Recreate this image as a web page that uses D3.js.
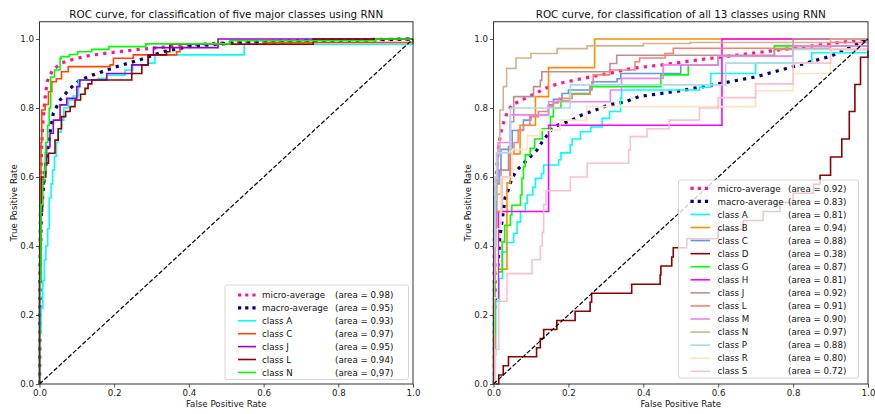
<!DOCTYPE html>
<html>
<head>
<meta charset="utf-8">
<script src="https://cdn.jsdelivr.net/npm/d3@7"></script>
<style>
  body { margin: 0; background: #fff; }
  svg { display: block; font-family: "DejaVu Sans", sans-serif; }
</style>
</head>
<body>
<svg id="chart" width="875" height="414"></svg>
<script>
// ---------- tick labels ----------
const xTicks = [0.0, 0.2, 0.4, 0.6, 0.8, 1.0];
const yTicks = [0.0, 0.2, 0.4, 0.6, 0.8, 1.0];

// ---------- panel 1: five major classes ----------
const fiveTitle = "ROC curve, for classification of five major classes using RNN";
const fiveNames = ["micro-average", "macro-average", "class A", "class C", "class J", "class L", "class N"];
const fiveAreas = ["0.98", "0.95", "0.93", "0.97", "0.95", "0.94", "0,97"];
const fiveColors = ["deeppink", "navy", "aqua", "orangered", "darkviolet", "darkred", "lime"];

const fiveMicro = [[0,0],[0.001,0.45],[0.004,0.62],[0.007,0.72],[0.010,0.77],[0.014,0.82],[0.018,0.855],[0.022,0.88],[0.035,0.91],[0.058,0.93],[0.089,0.941],[0.133,0.952],[0.187,0.96],[0.25,0.968],[0.376,0.981],[0.51,0.99],[0.75,0.997],[1,1]];
const fiveMacro = [[0,0],[0.001,0.3],[0.005,0.5],[0.013,0.60],[0.02,0.66],[0.027,0.72],[0.037,0.785],[0.055,0.823],[0.082,0.857],[0.108,0.881],[0.153,0.9],[0.207,0.92],[0.269,0.94],[0.331,0.963],[0.4,0.978],[0.51,0.988],[0.8,0.995],[1,1]];
const fiveA = [[0,0],[0,0.15],[0.004,0.22],[0.009,0.30],[0.013,0.36],[0.017,0.40],[0.022,0.45],[0.026,0.54],[0.031,0.58],[0.035,0.62],[0.040,0.66],[0.045,0.70],[0.049,0.73],[0.058,0.765],[0.065,0.80],[0.077,0.823],[0.09,0.835],[0.104,0.881],[0.157,0.886],[0.18,0.895],[0.229,0.91],[0.25,0.925],[0.291,0.93],[0.309,0.954],[0.548,0.985],[1,1]];
const fiveC = [[0,0],[0,0.45],[0.002,0.6],[0.004,0.7],[0.006,0.794],[0.015,0.81],[0.024,0.847],[0.033,0.876],[0.045,0.885],[0.059,0.905],[0.077,0.92],[0.189,0.925],[0.198,0.944],[0.251,0.954],[0.367,0.963],[0.376,0.985],[0.6,0.99],[1,1]];
const fiveJ = [[0,0],[0,0.35],[0.004,0.5],[0.008,0.58],[0.013,0.6],[0.017,0.64],[0.019,0.688],[0.028,0.727],[0.037,0.765],[0.055,0.809],[0.073,0.828],[0.1,0.862],[0.108,0.881],[0.18,0.90],[0.247,0.925],[0.291,0.954],[0.305,0.975],[0.478,1],[1,1]];
const fiveL = [[0,0],[0,0.3],[0.003,0.5],[0.006,0.6],[0.015,0.64],[0.024,0.669],[0.0415,0.707],[0.05,0.74],[0.059,0.775],[0.07,0.79],[0.082,0.804],[0.095,0.823],[0.11,0.84],[0.122,0.857],[0.13,0.87],[0.14,0.881],[0.247,0.90],[0.274,0.925],[0.291,0.954],[0.34,0.963],[0.349,0.985],[0.733,1],[1,1]];
const fiveN = [[0,0],[0,0.25],[0.0013,0.30],[0.004,0.52],[0.0086,0.59],[0.013,0.62],[0.0155,0.67],[0.017,0.70],[0.022,0.75],[0.026,0.80],[0.03,0.89],[0.04,0.91],[0.055,0.944],[0.058,0.949],[0.08,0.955],[0.102,0.963],[0.14,0.97],[0.186,0.978],[0.285,0.986],[0.51,0.995],[0.9,1],[1,1]];

// ---------- panel 2: all 13 classes ----------
const allTitle = "ROC curve, for classification of all 13 classes using RNN";
const allNames = ["micro-average", "macro-average", "class A", "class B", "class C", "class D", "class G", "class H", "class J", "class L", "class M", "class N", "class P", "class R", "class S"];
const allAreas = ["0.92", "0.83", "0.81", "0.94", "0.88", "0.38", "0.87", "0.81", "0.92", "0.91", "0.90", "0.97", "0.88", "0.80", "0.72"];
const allColors = ["deeppink", "navy", "aqua", "darkorange", "cornflowerblue", "darkred", "lime", "magenta", "rosybrown", "salmon", "violet", "tan", "lightblue", "bisque", "pink"];

const allMicro = [[0,0],[0.001,0.4],[0.005,0.55],[0.01,0.65],[0.015,0.7],[0.023,0.746],[0.036,0.785],[0.049,0.809],[0.085,0.828],[0.112,0.842],[0.138,0.857],[0.174,0.871],[0.218,0.881],[0.263,0.891],[0.308,0.9],[0.37,0.915],[0.45,0.925],[0.55,0.94],[0.7,0.96],[0.85,0.98],[1,1]];
const allMacro = [[0,0],[0.002,0.2],[0.008,0.3],[0.013,0.36],[0.017,0.427],[0.025,0.49],[0.031,0.54],[0.041,0.567],[0.049,0.596],[0.063,0.62],[0.081,0.64],[0.116,0.678],[0.13,0.702],[0.161,0.746],[0.21,0.765],[0.236,0.78],[0.272,0.794],[0.308,0.809],[0.352,0.818],[0.388,0.833],[0.5,0.85],[0.6,0.87],[0.7,0.89],[0.8,0.92],[0.9,0.95],[1,1]];
const allA = [[0,0],[0.003,0.084],[0.006,0.24],[0.015,0.306],[0.024,0.383],[0.035,0.41],[0.054,0.437],[0.063,0.47],[0.072,0.5],[0.085,0.524],[0.09,0.548],[0.105,0.57],[0.112,0.596],[0.128,0.61],[0.134,0.635],[0.174,0.65],[0.18,0.67],[0.205,0.693],[0.21,0.71],[0.232,0.731],[0.26,0.745],[0.29,0.77],[0.31,0.79],[0.339,0.828],[0.342,0.852],[0.55,0.86],[0.58,0.9],[0.7,0.93],[0.85,0.96],[1,1]];
const allB = [[0,0],[0,0.083],[0.004,0.25],[0.012,0.333],[0.036,0.583],[0.045,0.667],[0.071,0.75],[0.112,0.833],[0.147,0.917],[0.27,1],[1,1]];
const allC = [[0,0],[0,0.3],[0.004,0.5],[0.008,0.58],[0.015,0.62],[0.02,0.68],[0.05,0.735],[0.08,0.765],[0.1,0.78],[0.147,0.809],[0.16,0.825],[0.183,0.842],[0.2,0.852],[0.263,0.876],[0.33,0.885],[0.34,0.9],[0.5,0.925],[0.6,0.95],[0.8,0.98],[1,1]];
const allD = [[0,0],[0.014,0.026],[0.026,0.053],[0.04,0.079],[0.115,0.105],[0.125,0.132],[0.134,0.158],[0.169,0.184],[0.218,0.211],[0.258,0.237],[0.262,0.263],[0.369,0.289],[0.445,0.316],[0.447,0.342],[0.476,0.368],[0.48,0.395],[0.516,0.421],[0.60,0.447],[0.667,0.474],[0.72,0.5],[0.765,0.526],[0.80,0.553],[0.854,0.579],[0.872,0.605],[0.9,0.658],[0.93,0.71],[0.95,0.79],[0.965,0.868],[0.98,0.947],[1,1]];
const allG = [[0,0],[0,0.15],[0.004,0.325],[0.023,0.412],[0.03,0.46],[0.045,0.49],[0.049,0.518],[0.072,0.548],[0.076,0.596],[0.08,0.63],[0.085,0.664],[0.098,0.683],[0.11,0.71],[0.13,0.74],[0.152,0.775],[0.16,0.8],[0.18,0.82],[0.205,0.842],[0.258,0.862],[0.447,0.896],[0.52,0.925],[0.6,0.95],[0.75,0.98],[1,1]];
const allH = [[0,0],[0,0.25],[0.013,0.5],[0.147,0.75],[0.61,1],[1,1]];
const allJ = [[0,0],[0,0.2],[0.003,0.4],[0.008,0.55],[0.02,0.62],[0.04,0.688],[0.045,0.76],[0.054,0.833],[0.107,0.862],[0.125,0.88],[0.129,0.905],[0.311,0.929],[0.329,0.953],[0.75,0.97],[0.8,1],[1,1]];
const allL = [[0,0],[0,0.3],[0.003,0.5],[0.022,0.6],[0.044,0.669],[0.055,0.7],[0.066,0.736],[0.08,0.75],[0.097,0.775],[0.12,0.79],[0.146,0.804],[0.16,0.815],[0.173,0.828],[0.21,0.84],[0.258,0.867],[0.266,0.896],[0.31,0.91],[0.378,0.934],[0.39,0.945],[0.458,0.958],[0.48,0.973],[0.9,0.99],[1,1]];
const allM = [[0,0],[0,0.3],[0.005,0.6],[0.012,0.7],[0.045,0.78],[0.147,0.818],[0.312,0.852],[0.342,0.886],[0.453,0.925],[0.6,0.95],[0.8,0.98],[1,1]];
const allN = [[0,0],[0,0.3],[0.002,0.533],[0.009,0.67],[0.017,0.794],[0.026,0.862],[0.035,0.915],[0.06,0.945],[0.1,0.958],[0.17,0.972],[0.25,0.98],[0.4,0.987],[0.525,0.99],[0.9,1],[1,1]];
const allP = [[0,0],[0,0.4],[0.004,0.6],[0.008,0.67],[0.045,0.8],[0.205,0.867],[0.62,0.93],[0.8,0.97],[1,1]];
const allR = [[0,0],[0,0.25],[0.01,0.45],[0.02,0.6],[0.05,0.68],[0.09,0.72],[0.124,0.736],[0.178,0.765],[0.249,0.804],[0.7,0.85],[0.8,0.9],[0.9,0.97],[1,1]];
const allS = [[0,0],[0.005,0.1],[0.014,0.24],[0.036,0.32],[0.103,0.36],[0.125,0.40],[0.13,0.44],[0.134,0.52],[0.14,0.56],[0.205,0.6],[0.25,0.64],[0.361,0.678],[0.365,0.717],[0.41,0.74],[0.469,0.765],[0.55,0.8],[0.6,0.83],[0.7,0.87],[0.8,0.93],[0.9,0.97],[1,1]];

const chance = [[0,0],[1,1]];

const fiveSeries = [fiveMicro, fiveMacro, fiveA, fiveC, fiveJ, fiveL, fiveN];
const allSeries = [allMicro, allMacro, allA, allB, allC, allD, allG, allH, allJ, allL, allM, allN, allP, allR, allS];

// ---------- drawing ----------
const svg = d3.select("#chart");
const FS = 8.7;

function drawPanel(p) {
  const x = d3.scaleLinear().domain([0, 1]).range([p.left, p.right]);
  const y = d3.scaleLinear().domain([0, 1.05]).range([p.bottom, p.top]);
  const g = svg.append("g");

  const clipId = "clip" + p.id;
  g.append("clipPath").attr("id", clipId)
    .append("rect").attr("x", p.left - 1).attr("y", p.top)
    .attr("width", p.right - p.left + 2).attr("height", p.bottom - p.top + 1);

  const plot = g.append("g").attr("clip-path", `url(#${clipId})`);
  const stepLine = d3.line().x(d => x(d[0])).y(d => y(d[1])).curve(d3.curveStepAfter);
  const smoothLine = d3.line().x(d => x(d[0])).y(d => y(d[1]));

  p.series.forEach((s, i) => {
    const avg = i < 2;
    plot.append("path")
      .attr("d", avg ? smoothLine(s) : stepLine(s))
      .attr("fill", "none")
      .attr("stroke", p.colors[i])
      .attr("stroke-width", avg ? 3.2 : 1.6)
      .attr("stroke-dasharray", avg ? "3.2,5.2" : null)
      .attr("stroke-linejoin", "miter");
  });

  plot.append("path")
    .attr("d", smoothLine(chance))
    .attr("fill", "none").attr("stroke", "black")
    .attr("stroke-width", 1.2).attr("stroke-dasharray", "4.5,2");

  // axes
  const fmt = d3.format(".1f");
  const xAxis = g.append("g").attr("transform", `translate(0,${p.bottom})`)
    .call(d3.axisBottom(x).tickValues(xTicks).tickFormat(fmt).tickSize(3.5).tickPadding(2));
  const yAxis = g.append("g").attr("transform", `translate(${p.left},0)`)
    .call(d3.axisLeft(y).tickValues(yTicks).tickFormat(fmt).tickSize(3.5).tickPadding(2));
  [xAxis, yAxis].forEach(a => {
    a.select(".domain").remove();
    a.selectAll("line").attr("stroke", "#222").attr("stroke-width", 0.8);
    a.selectAll("text").attr("font-size", FS).attr("fill", "#222")
      .attr("font-family", "DejaVu Sans");
  });

  // frame
  g.append("rect").attr("x", p.left).attr("y", p.top)
    .attr("width", p.right - p.left).attr("height", p.bottom - p.top)
    .attr("fill", "none").attr("stroke", "#333").attr("stroke-width", 1);

  // titles / labels
  g.append("text").attr("x", (p.left + p.right) / 2).attr("y", 17.5)
    .attr("text-anchor", "middle").attr("font-size", 10.4).attr("fill", "#111")
    .text(p.title);
  g.append("text").attr("x", (p.left + p.right) / 2).attr("y", 407)
    .attr("text-anchor", "middle").attr("font-size", FS).attr("fill", "#111")
    .text("False Positive Rate");
  g.append("text")
    .attr("transform", `translate(${p.left - 23},${(p.top + p.bottom) / 2}) rotate(-90)`)
    .attr("text-anchor", "middle").attr("font-size", FS).attr("fill", "#111")
    .text("True Positive Rate");

  // legend
  const L = p.legend;
  const lg = g.append("g");
  lg.append("rect").attr("x", L.x0).attr("y", L.y0)
    .attr("width", L.x1 - L.x0).attr("height", L.y1 - L.y0).attr("rx", 2)
    .attr("fill", "white").attr("fill-opacity", 0.8)
    .attr("stroke", "#cccccc").attr("stroke-width", 0.8);
  p.names.forEach((n, i) => {
    const cy = L.row0 + i * L.step;
    const avg = i < 2;
    lg.append("line").attr("x1", L.sw0).attr("x2", L.sw1).attr("y1", cy).attr("y2", cy)
      .attr("stroke", p.colors[i]).attr("stroke-width", avg ? 3.2 : 1.6)
      .attr("stroke-dasharray", avg ? "3.2,4" : null);
    lg.append("text").attr("x", L.lab).attr("y", cy + 3.2)
      .attr("font-size", FS).attr("fill", "#111").text(n);
    lg.append("text").attr("x", L.area).attr("y", cy + 3.2)
      .attr("font-size", FS).attr("fill", "#111").text(`(area = ${p.areas[i]})`);
  });
}

drawPanel({
  id: 1, left: 39.5, right: 413, top: 21.75, bottom: 384,
  title: fiveTitle, series: fiveSeries, names: fiveNames, areas: fiveAreas, colors: fiveColors,
  legend: { x0: 225, x1: 408.5, y0: 285, y1: 379.5, row0: 295, step: 12.9, sw0: 238, sw1: 256, lab: 262, area: 335 }
});
drawPanel({
  id: 2, left: 493.5, right: 868, top: 21.75, bottom: 384,
  title: allTitle, series: allSeries, names: allNames, areas: allAreas, colors: allColors,
  legend: { x0: 678.5, x1: 858.5, y0: 180, y1: 378, row0: 188.3, step: 13.07, sw0: 690.5, sw1: 710, lab: 717.5, area: 788 }
});
</script>
</body>
</html>
